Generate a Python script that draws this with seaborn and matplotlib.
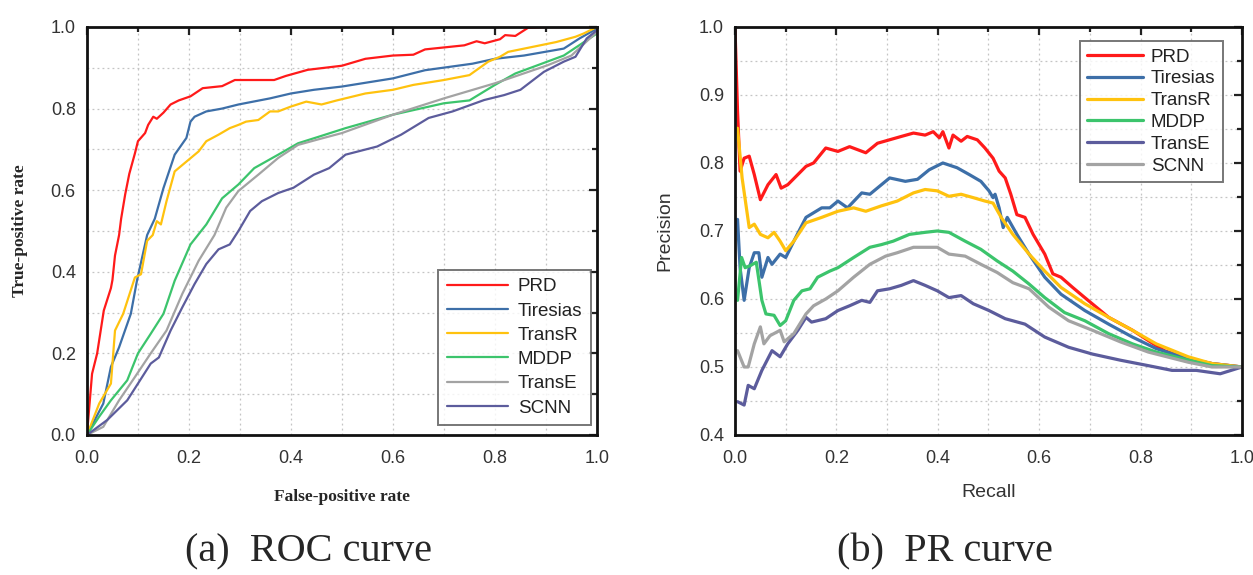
import matplotlib
matplotlib.use("Agg")
import matplotlib.pyplot as plt
from matplotlib.ticker import MultipleLocator
import pandas as pd
import numpy as np
import seaborn as sns

# ROC curve data (false-positive rate, true-positive rate)
roc_prd_x = [0, 0.01, 0.02, 0.033, 0.047, 0.05, 0.055, 0.063, 0.067, 0.075, 0.083, 0.094, 0.10, 0.114, 0.12, 0.13, 0.137, 0.15, 0.164, 0.18, 0.203, 0.227, 0.265, 0.29, 0.367, 0.39, 0.433, 0.5, 0.546, 0.6, 0.64, 0.663, 0.74, 0.764, 0.78, 0.81, 0.82, 0.84, 0.865, 0.9, 1.0]
roc_prd_y = [0, 0.15, 0.2, 0.305, 0.36, 0.38, 0.44, 0.49, 0.53, 0.59, 0.64, 0.69, 0.72, 0.74, 0.76, 0.78, 0.775, 0.79, 0.81, 0.82, 0.83, 0.85, 0.855, 0.87, 0.87, 0.88, 0.895, 0.905, 0.922, 0.93, 0.932, 0.945, 0.955, 0.965, 0.96, 0.97, 0.98, 0.978, 0.998, 1.0, 1.0]

roc_tir_x = [0, 0.032, 0.047, 0.063, 0.086, 0.098, 0.118, 0.133, 0.15, 0.172, 0.195, 0.203, 0.211, 0.234, 0.265, 0.297, 0.359, 0.4, 0.445, 0.5, 0.6, 0.663, 0.756, 0.8, 0.857, 0.935, 0.966, 1.0]
roc_tir_y = [0, 0.077, 0.167, 0.215, 0.297, 0.378, 0.49, 0.53, 0.605, 0.687, 0.728, 0.768, 0.78, 0.793, 0.8, 0.81, 0.825, 0.837, 0.846, 0.854, 0.874, 0.894, 0.91, 0.922, 0.93, 0.947, 0.972, 0.996]

roc_trr_x = [0, 0.024, 0.047, 0.055, 0.071, 0.094, 0.106, 0.118, 0.129, 0.137, 0.145, 0.156, 0.172, 0.195, 0.219, 0.234, 0.258, 0.28, 0.297, 0.312, 0.336, 0.359, 0.375, 0.4, 0.43, 0.46, 0.49, 0.546, 0.6, 0.64, 0.70, 0.75, 0.787, 0.81, 0.826, 0.873, 0.92, 0.958, 0.974, 1.0]
roc_trr_y = [0, 0.077, 0.126, 0.256, 0.297, 0.386, 0.394, 0.476, 0.49, 0.524, 0.516, 0.573, 0.646, 0.67, 0.695, 0.72, 0.736, 0.752, 0.76, 0.768, 0.772, 0.793, 0.793, 0.805, 0.817, 0.81, 0.82, 0.837, 0.846, 0.858, 0.87, 0.882, 0.915, 0.927, 0.939, 0.951, 0.963, 0.976, 0.984, 1.0]

roc_mddp_x = [0, 0.024, 0.047, 0.079, 0.1, 0.125, 0.15, 0.172, 0.203, 0.234, 0.265, 0.297, 0.328, 0.375, 0.414, 0.452, 0.507, 0.6, 0.70, 0.75, 0.8, 0.84, 0.935, 1.0]
roc_mddp_y = [0, 0.045, 0.085, 0.134, 0.2, 0.248, 0.297, 0.378, 0.467, 0.516, 0.58, 0.614, 0.654, 0.687, 0.715, 0.73, 0.752, 0.785, 0.813, 0.82, 0.858, 0.886, 0.93, 0.984]

roc_transe_x = [0, 0.032, 0.063, 0.094, 0.125, 0.156, 0.187, 0.219, 0.25, 0.273, 0.297, 0.336, 0.375, 0.414, 0.452, 0.5, 0.6, 0.70, 0.8, 0.903, 0.95, 1.0]
roc_transe_y = [0, 0.02, 0.085, 0.142, 0.2, 0.256, 0.346, 0.427, 0.49, 0.557, 0.598, 0.638, 0.679, 0.711, 0.724, 0.74, 0.785, 0.825, 0.862, 0.906, 0.93, 0.988]

roc_scnn_x = [0, 0.04, 0.079, 0.1, 0.125, 0.141, 0.164, 0.187, 0.211, 0.234, 0.258, 0.28, 0.297, 0.32, 0.343, 0.375, 0.405, 0.445, 0.475, 0.507, 0.569, 0.616, 0.67, 0.717, 0.779, 0.818, 0.85, 0.896, 0.935, 0.958, 0.98, 1.0]
roc_scnn_y = [0, 0.037, 0.085, 0.126, 0.175, 0.19, 0.256, 0.313, 0.37, 0.419, 0.455, 0.467, 0.5, 0.549, 0.573, 0.593, 0.606, 0.638, 0.654, 0.687, 0.707, 0.736, 0.777, 0.793, 0.821, 0.833, 0.846, 0.89, 0.915, 0.927, 0.972, 0.992]

# PR curve data (recall, precision)
pr_prd_x = [0, 0.005, 0.01, 0.018, 0.028, 0.038, 0.05, 0.065, 0.081, 0.091, 0.104, 0.124, 0.14, 0.155, 0.179, 0.203, 0.226, 0.258, 0.281, 0.328, 0.352, 0.375, 0.391, 0.403, 0.41, 0.422, 0.43, 0.446, 0.458, 0.478, 0.493, 0.509, 0.521, 0.533, 0.544, 0.556, 0.572, 0.588, 0.611, 0.627, 0.643, 0.666, 0.69, 0.737, 0.784, 0.815, 0.847, 0.894, 0.941, 1.0]
pr_prd_y = [0.998, 0.876, 0.788, 0.807, 0.81, 0.783, 0.746, 0.768, 0.783, 0.763, 0.768, 0.783, 0.795, 0.8, 0.822, 0.817, 0.824, 0.815, 0.829, 0.839, 0.844, 0.841, 0.846, 0.837, 0.846, 0.822, 0.841, 0.832, 0.839, 0.834, 0.822, 0.807, 0.788, 0.778, 0.754, 0.724, 0.72, 0.695, 0.666, 0.637, 0.632, 0.617, 0.602, 0.573, 0.554, 0.539, 0.524, 0.512, 0.505, 0.5]

pr_tir_x = [0.005, 0.01, 0.018, 0.028, 0.038, 0.047, 0.053, 0.065, 0.073, 0.089, 0.1, 0.116, 0.14, 0.171, 0.187, 0.203, 0.222, 0.25, 0.266, 0.305, 0.336, 0.36, 0.383, 0.41, 0.438, 0.462, 0.485, 0.501, 0.509, 0.513, 0.521, 0.529, 0.537, 0.556, 0.58, 0.611, 0.643, 0.69, 0.737, 0.784, 0.831, 0.894, 0.941, 1.0]
pr_tir_y = [0.717, 0.646, 0.598, 0.646, 0.668, 0.668, 0.632, 0.661, 0.651, 0.666, 0.661, 0.685, 0.72, 0.734, 0.734, 0.744, 0.734, 0.756, 0.754, 0.778, 0.773, 0.776, 0.79, 0.8, 0.793, 0.783, 0.773, 0.759, 0.749, 0.754, 0.734, 0.705, 0.72, 0.695, 0.666, 0.632, 0.607, 0.583, 0.563, 0.544, 0.527, 0.512, 0.505, 0.5]

pr_trr_x = [0.005, 0.014, 0.028, 0.038, 0.05, 0.065, 0.077, 0.089, 0.1, 0.116, 0.14, 0.171, 0.203, 0.234, 0.258, 0.289, 0.32, 0.352, 0.375, 0.399, 0.422, 0.446, 0.47, 0.493, 0.509, 0.525, 0.548, 0.58, 0.611, 0.643, 0.69, 0.737, 0.784, 0.831, 0.894, 0.941, 1.0]
pr_trr_y = [0.851, 0.778, 0.705, 0.71, 0.695, 0.69, 0.698, 0.685, 0.671, 0.685, 0.712, 0.72, 0.729, 0.734, 0.729, 0.737, 0.744, 0.756, 0.761, 0.759, 0.751, 0.754, 0.749, 0.744, 0.741, 0.72, 0.695, 0.666, 0.641, 0.617, 0.593, 0.573, 0.554, 0.534, 0.515, 0.505, 0.5]

pr_mddp_x = [0.005, 0.013, 0.02, 0.03, 0.042, 0.053, 0.061, 0.077, 0.089, 0.1, 0.116, 0.132, 0.148, 0.163, 0.187, 0.203, 0.234, 0.266, 0.289, 0.312, 0.344, 0.375, 0.399, 0.422, 0.454, 0.485, 0.517, 0.548, 0.58, 0.611, 0.65, 0.69, 0.737, 0.784, 0.831, 0.894, 0.941, 1.0]
pr_mddp_y = [0.598, 0.661, 0.646, 0.649, 0.654, 0.598, 0.578, 0.576, 0.561, 0.568, 0.598, 0.612, 0.615, 0.632, 0.641, 0.646, 0.661, 0.676, 0.68, 0.685, 0.695, 0.698, 0.7, 0.698, 0.685, 0.673, 0.656, 0.641, 0.622, 0.602, 0.58, 0.568, 0.549, 0.534, 0.522, 0.51, 0.502, 0.5]

pr_transe_x = [0.005, 0.018, 0.026, 0.038, 0.053, 0.073, 0.089, 0.104, 0.124, 0.14, 0.151, 0.179, 0.203, 0.226, 0.25, 0.266, 0.281, 0.305, 0.328, 0.352, 0.375, 0.399, 0.422, 0.446, 0.47, 0.501, 0.533, 0.572, 0.611, 0.658, 0.705, 0.76, 0.815, 0.862, 0.91, 0.957, 1.0]
pr_transe_y = [0.449, 0.444, 0.473, 0.468, 0.495, 0.524, 0.515, 0.534, 0.554, 0.573, 0.566, 0.571, 0.583, 0.59, 0.598, 0.595, 0.612, 0.615, 0.62, 0.627, 0.62, 0.612, 0.602, 0.605, 0.593, 0.583, 0.571, 0.563, 0.544, 0.529, 0.519, 0.51, 0.502, 0.495, 0.495, 0.49, 0.5]

pr_scnn_x = [0.005, 0.018, 0.026, 0.038, 0.05, 0.057, 0.069, 0.089, 0.097, 0.116, 0.14, 0.155, 0.179, 0.203, 0.234, 0.266, 0.297, 0.32, 0.352, 0.375, 0.399, 0.422, 0.454, 0.485, 0.517, 0.548, 0.58, 0.619, 0.658, 0.705, 0.76, 0.815, 0.894, 0.941, 1.0]
pr_scnn_y = [0.524, 0.5, 0.5, 0.534, 0.559, 0.534, 0.546, 0.554, 0.537, 0.549, 0.578, 0.59, 0.6, 0.612, 0.632, 0.651, 0.663, 0.668, 0.676, 0.676, 0.676, 0.666, 0.663, 0.651, 0.639, 0.624, 0.615, 0.588, 0.568, 0.554, 0.537, 0.522, 0.507, 0.5, 0.5]

models = ["PRD", "Tiresias", "TransR", "MDDP", "TransE", "SCNN"]

roc_data = {
    "PRD": (roc_prd_x, roc_prd_y),
    "Tiresias": (roc_tir_x, roc_tir_y),
    "TransR": (roc_trr_x, roc_trr_y),
    "MDDP": (roc_mddp_x, roc_mddp_y),
    "TransE": (roc_transe_x, roc_transe_y),
    "SCNN": (roc_scnn_x, roc_scnn_y),
}
pr_data = {
    "PRD": (pr_prd_x, pr_prd_y),
    "Tiresias": (pr_tir_x, pr_tir_y),
    "TransR": (pr_trr_x, pr_trr_y),
    "MDDP": (pr_mddp_x, pr_mddp_y),
    "TransE": (pr_transe_x, pr_transe_y),
    "SCNN": (pr_scnn_x, pr_scnn_y),
}

red, blue, yellow, green = "#ff1a1a", "#3d6fa8", "#ffc20e", "#3cc46c"
grey, purple = "#a3a3a3", "#5c5c9c"
roc_palette = {"PRD": red, "Tiresias": blue, "TransR": yellow, "MDDP": green, "TransE": grey, "SCNN": purple}
pr_palette = {"PRD": red, "Tiresias": blue, "TransR": yellow, "MDDP": green, "TransE": purple, "SCNN": grey}


def long_form(data):
    rows = []
    for m in models:
        xs, ys = data[m]
        rows.append(pd.DataFrame({"x": xs, "y": ys, "model": m}))
    return pd.concat(rows, ignore_index=True)


df_roc = long_form(roc_data)
df_pr = long_form(pr_data)

sns.set_style("white")
plt.rcParams["font.family"] = ["Liberation Sans", "DejaVu Sans"]

fig = plt.figure(figsize=(12.53, 5.75), dpi=100)
ax1 = fig.add_axes([0.0694, 0.2435, 0.407, 0.7096])
ax2 = fig.add_axes([0.5866, 0.2435, 0.4046, 0.7096])

sns.lineplot(data=df_roc, x="x", y="y", hue="model", hue_order=models, palette=roc_palette,
             sort=False, estimator=None, linewidth=1.6, ax=ax1)
sns.lineplot(data=df_pr, x="x", y="y", hue="model", hue_order=models, palette=pr_palette,
             sort=False, estimator=None, linewidth=2.3, ax=ax2)

def style_axes(ax, ylim, yminor):
    ax.set_xlim(0, 1)
    ax.set_ylim(*ylim)
    ax.xaxis.set_major_locator(MultipleLocator(0.2))
    ax.xaxis.set_minor_locator(MultipleLocator(0.1))
    ax.yaxis.set_major_locator(MultipleLocator(0.2 if yminor == 0.1 else 0.1))
    ax.yaxis.set_minor_locator(MultipleLocator(yminor))
    ax.xaxis.set_major_formatter(plt.FormatStrFormatter("%.1f"))
    ax.yaxis.set_major_formatter(plt.FormatStrFormatter("%.1f"))
    ax.grid(True, which="both", linestyle=(0, (1.5, 2.5)), color="#c4c4c4", linewidth=0.9)
    ax.set_axisbelow(True)
    ax.tick_params(which="both", direction="in", top=True, right=True, width=1.6, colors="#222222",
                   labelcolor="#333333", labelsize=13, pad=8)
    ax.tick_params(axis="x", which="both", pad=11)
    ax.tick_params(which="major", length=6)
    ax.tick_params(which="minor", length=3.5)
    for s in ax.spines.values():
        s.set_linewidth(2)
        s.set_color("#111111")

style_axes(ax1, (0, 1), 0.1)
style_axes(ax2, (0.4, 1), 0.05)

ax1.set_xlabel("False-positive rate", family=["Liberation Serif"], weight="bold", fontsize=12.5, labelpad=16)
ax1.set_ylabel("True-positive rate", family=["Liberation Serif"], weight="bold", fontsize=12.5, labelpad=16)
ax2.set_xlabel("Recall", fontsize=14, color="#333333", labelpad=12)
ax2.set_ylabel("Precision", fontsize=14, color="#333333", labelpad=18)

leg1 = ax1.legend(loc="lower right", bbox_to_anchor=(0.988, 0.0245), borderaxespad=0, fontsize=13.5,
                  frameon=True, fancybox=False, edgecolor="#555555", handlelength=3.3,
                  labelspacing=0.38, handletextpad=0.5, borderpad=0.45)
leg1.get_frame().set_linewidth(1.4)
leg2 = ax2.legend(loc="upper right", bbox_to_anchor=(0.9625, 0.9657), borderaxespad=0, fontsize=13.5,
                  frameon=True, fancybox=False, edgecolor="#555555", handlelength=3.0,
                  labelspacing=0.25, handletextpad=0.4, borderpad=0.4)
leg2.get_frame().set_linewidth(1.4)
for lg in (leg1, leg2):
    for t in lg.get_texts():
        t.set_color("#222222")

fig.text(0.2465, 0.04, "(a)  ROC curve", family=["Liberation Serif"], fontsize=29, ha="center", va="center")
fig.text(0.754, 0.04, "(b)  PR curve", family=["Liberation Serif"], fontsize=29, ha="center", va="center")

fig.savefig("out.png", dpi=100)
